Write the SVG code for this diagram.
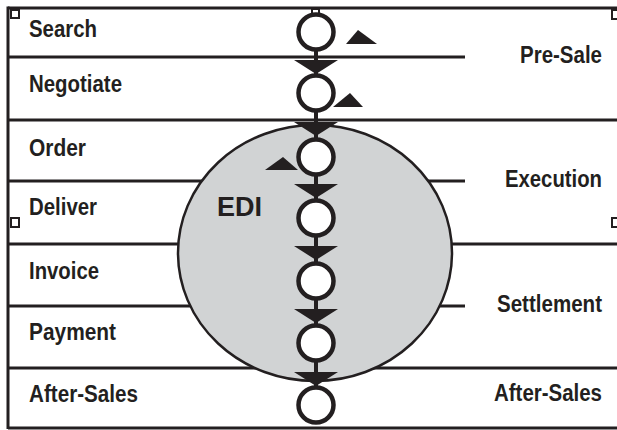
<svg xmlns="http://www.w3.org/2000/svg" width="617" height="430" viewBox="0 0 617 430">
<style>
.ln{stroke:#231f20;stroke-width:3;fill:none}
.sq{stroke:#231f20;stroke-width:2;fill:#fff}
.lbl{font-family:"Liberation Sans",Arial,sans-serif;font-weight:bold;font-size:23px;fill:#231f20}
.r{text-anchor:end}
.node{fill:#fff;stroke:#231f20;stroke-width:4.5}
.arr{fill:#231f20}
</style>
<rect width="617" height="430" fill="#fff"/>
<g id="frame">
<line class="ln" x1="8" y1="8" x2="617" y2="8"/>
<line class="ln" x1="8" y1="6.5" x2="8" y2="429"/>
<line class="ln" x1="8" y1="428" x2="617" y2="428"/>
<line class="ln" x1="8" y1="57" x2="465" y2="57"/>
<line class="ln" x1="8" y1="120" x2="617" y2="120"/>
<line class="ln" x1="8" y1="181" x2="465" y2="181"/>
<line class="ln" x1="8" y1="244" x2="617" y2="244"/>
<line class="ln" x1="8" y1="306" x2="465" y2="306"/>
<line class="ln" x1="8" y1="368" x2="617" y2="368"/>
<rect class="sq" x="11" y="10" width="8" height="8"/>
<rect class="sq" x="11" y="218" width="8" height="9"/>
<rect class="sq" x="612" y="10" width="8" height="9"/>
<rect class="sq" x="612" y="218" width="8" height="9"/>
<rect class="sq" x="312" y="9" width="7" height="5"/>
</g>
<g id="edi">
<ellipse cx="315" cy="253" rx="137" ry="128" fill="#d1d3d4" stroke="#231f20" stroke-width="2.5"/>
<text class="lbl" x="217" y="216" style="font-size:27px" textLength="45" lengthAdjust="spacingAndGlyphs">EDI</text>
</g>
<g id="connectors">
<line x1="316" y1="14" x2="316" y2="405" stroke="#231f20" stroke-width="4"/>
<polygon class="arr" points="294,60 338,60 316,74"/>
<polygon class="arr" points="294,122 338,122 316,136"/>
<polygon class="arr" points="294,184 338,184 316,198"/>
<polygon class="arr" points="294,246 338,246 316,260"/>
<polygon class="arr" points="294,309 338,309 316,323"/>
<polygon class="arr" points="294,372 338,372 316,386"/>
<polygon class="arr" points="346,44 377,44 358,30"/>
<polygon class="arr" points="333,107 363,107 350,93"/>
<polygon class="arr" points="265,170 298,170 283,157"/>
</g>
<g id="n1"><circle class="node" cx="316" cy="32" r="17.5"/></g>
<g id="n2"><circle class="node" cx="316" cy="93" r="17.5"/></g>
<g id="n3"><circle class="node" cx="316" cy="157" r="17.5"/></g>
<g id="n4"><circle class="node" cx="316" cy="218" r="17.5"/></g>
<g id="n5"><circle class="node" cx="316" cy="281" r="17.5"/></g>
<g id="n6"><circle class="node" cx="316" cy="343" r="17.5"/></g>
<g id="n7"><circle class="node" cx="316" cy="405" r="17.5"/></g>
<g id="labels">
<text class="lbl" x="29" y="37" textLength="68" lengthAdjust="spacingAndGlyphs">Search</text>
<text class="lbl" x="29" y="92" textLength="93" lengthAdjust="spacingAndGlyphs">Negotiate</text>
<text class="lbl" x="29" y="156" textLength="57" lengthAdjust="spacingAndGlyphs">Order</text>
<text class="lbl" x="29" y="215" textLength="68" lengthAdjust="spacingAndGlyphs">Deliver</text>
<text class="lbl" x="29" y="279" textLength="70" lengthAdjust="spacingAndGlyphs">Invoice</text>
<text class="lbl" x="29" y="340" textLength="87" lengthAdjust="spacingAndGlyphs">Payment</text>
<text class="lbl" x="29" y="402" textLength="109" lengthAdjust="spacingAndGlyphs">After-Sales</text>
<text class="lbl r" x="602" y="63" textLength="82" lengthAdjust="spacingAndGlyphs">Pre-Sale</text>
<text class="lbl r" x="602" y="187" textLength="97" lengthAdjust="spacingAndGlyphs">Execution</text>
<text class="lbl r" x="602" y="312" textLength="105" lengthAdjust="spacingAndGlyphs">Settlement</text>
<text class="lbl r" x="602" y="401" textLength="108" lengthAdjust="spacingAndGlyphs">After-Sales</text>
</g>
</svg>
